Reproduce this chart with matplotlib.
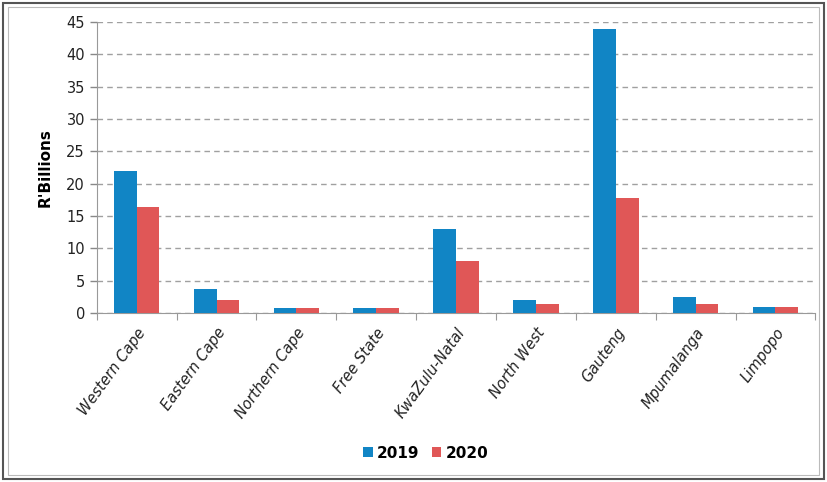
import numpy as np
import matplotlib
matplotlib.use("Agg")
import matplotlib.pyplot as plt
from matplotlib.patches import Rectangle

# Provincial values, R billions
provinces = ["Western Cape", "Eastern Cape", "Northern Cape", "Free State",
             "KwaZulu-Natal", "North West", "Gauteng", "Mpumalanga", "Limpopo"]
values_2019 = [21.9, 3.7, 0.7, 0.7, 12.9, 2.0, 44.0, 2.4, 0.9]
values_2020 = [16.4, 2.0, 0.7, 0.7, 8.1, 1.3, 17.8, 1.35, 0.9]
yticks = [0, 5, 10, 15, 20, 25, 30, 35, 40, 45]

blue = "#1185c5"
red = "#e05757"

fig = plt.figure(figsize=(8.27, 4.82), dpi=100)
ax = fig.add_axes([0.117, 0.351, 0.869, 0.603])

x = np.arange(len(provinces))
w = 0.285
ax.bar(x - w / 2, values_2019, width=w, color=blue, label="2019", zorder=3)
ax.bar(x + w / 2, values_2020, width=w, color=red, label="2020", zorder=3)

ax.set_xlim(-0.5, len(provinces) - 0.5)
ax.set_ylim(0, 45)
ax.set_yticks(yticks)
ax.tick_params(axis="y", labelsize=10.5, colors="#888888", labelcolor="#222222",
               length=5, width=1)
ax.yaxis.grid(True, linestyle=(0, (4, 3)), color="#a0a0a0", linewidth=1)
ax.set_axisbelow(True)

# category ticks between groups, labels at group centres
ax.set_xticks(np.arange(len(provinces) + 1) - 0.5)
ax.set_xticks(x, minor=True)
ax.set_xticklabels([])
ax.set_xticklabels(provinces, minor=True, rotation=54, ha="right",
                   rotation_mode="anchor", fontstyle="italic", fontsize=10.5,
                   color="#222222")
ax.tick_params(axis="x", which="major", length=5, colors="#999999")
ax.tick_params(axis="x", which="minor", length=0, pad=9)

for side in ["top", "right"]:
    ax.spines[side].set_visible(False)
for side in ["left", "bottom"]:
    ax.spines[side].set_color("#999999")

ax.set_ylabel("R'Billions", fontsize=11, fontweight="bold", labelpad=10)

fig.legend(loc="center", bbox_to_anchor=(0.515, 0.06), ncol=2, frameon=False,
           handlelength=0.6, handleheight=0.6, handletextpad=0.3,
           columnspacing=0.8, prop={"weight": "bold", "size": 11})

# outer frame
fig.patches.append(Rectangle((0.004, 0.006), 0.992, 0.988, transform=fig.transFigure,
                             fill=False, edgecolor="#555555", linewidth=1.5))
fig.patches.append(Rectangle((0.010, 0.014), 0.980, 0.972, transform=fig.transFigure,
                             fill=False, edgecolor="#bbbbbb", linewidth=0.8))

fig.savefig("out.png", dpi=100)
